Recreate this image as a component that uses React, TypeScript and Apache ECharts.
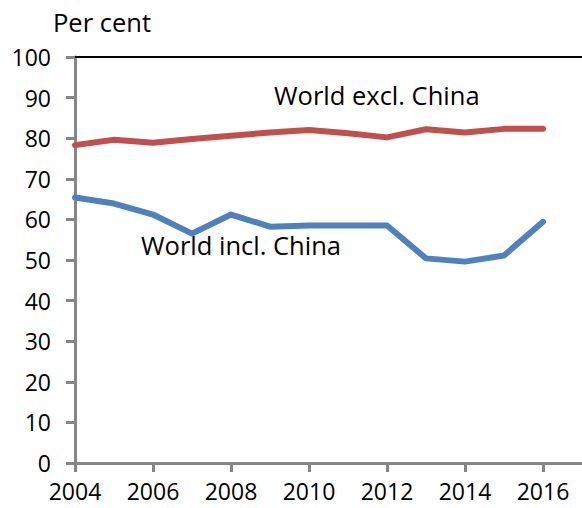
import React, { useEffect, useRef } from "react";
import * as echarts from "echarts";

const years = ["2004","2005","2006","2007","2008","2009","2010","2011","2012","2013","2014","2015","2016","2017"];
const worldExclChina = [78.3, 79.6, 78.9, 79.8, 80.6, 81.4, 82.0, 81.2, 80.2, 82.2, 81.4, 82.3, 82.3, null];
const worldInclChina = [65.4, 63.9, 61.2, 56.5, 61.2, 58.2, 58.5, 58.5, 58.5, 50.4, 49.6, 51.1, 59.4, null];
const yTicks = { min: 0, max: 100, interval: 10 };

const FONT = "Open Sans";
const FS = 23;
const LFS = 25.5;

export default function App() {
  const ref = useRef<HTMLDivElement>(null);
  useEffect(() => {
    document.body.style.margin = "0";
    const chart = echarts.init(ref.current!, null, { renderer: "svg" });
    chart.setOption({
      animation: false,
      textStyle: { fontFamily: FONT },
      grid: { left: 75, right: 0, top: 57, bottom: 45, containLabel: false },
      xAxis: [
        {
          type: "category",
          data: years,
          boundaryGap: false,
          axisLine: { lineStyle: { color: "#868686", width: 3 } },
          axisTick: { show: true, length: 9, interval: 1, lineStyle: { color: "#868686", width: 3 } },
          axisLabel: {
            interval: 1,
            margin: 16,
            fontSize: FS,
            lineHeight: FS,
            color: "#000",
            fontFamily: FONT,
            formatter: (v: string) => (v === "2017" ? "" : v),
          },
          splitLine: { show: false },
        },
        {
          type: "category",
          data: years,
          position: "top",
          boundaryGap: false,
          axisLine: { lineStyle: { color: "#000", width: 2 } },
          axisTick: { show: false },
          axisLabel: { show: false },
        },
      ],
      yAxis: {
        type: "value",
        min: yTicks.min,
        max: yTicks.max,
        interval: yTicks.interval,
        axisLine: { show: true, lineStyle: { color: "#868686", width: 3 } },
        axisTick: { show: true, length: 9, lineStyle: { color: "#868686", width: 3 } },
        axisLabel: { margin: 24, fontSize: FS, color: "#000", fontFamily: FONT },
        splitLine: { show: false },
      },
      series: [
        {
          name: "World excl. China",
          type: "line",
          data: worldExclChina,
          symbol: "none",
          lineStyle: { color: "#C0504D", width: 6, cap: "round", join: "round" },
        },
        {
          name: "World incl. China",
          type: "line",
          data: worldInclChina,
          symbol: "none",
          lineStyle: { color: "#4F81BD", width: 6, cap: "round", join: "round" },
        },
      ],
      graphic: [
        {
          type: "text",
          left: 53,
          top: 9,
          style: { text: "Per cent", fontSize: LFS, fontFamily: FONT, fill: "#000" },
        },
        {
          type: "text",
          left: 274,
          top: 82,
          style: { text: "World excl. China", fontSize: LFS, fontFamily: FONT, fill: "#000" },
        },
        {
          type: "text",
          left: 141,
          top: 232,
          style: { text: "World incl. China", fontSize: LFS, fontFamily: FONT, fill: "#000" },
        },
      ],
    });
    return () => chart.dispose();
  }, []);
  return <div ref={ref} style={{ width: 582, height: 508 }} />;
}
